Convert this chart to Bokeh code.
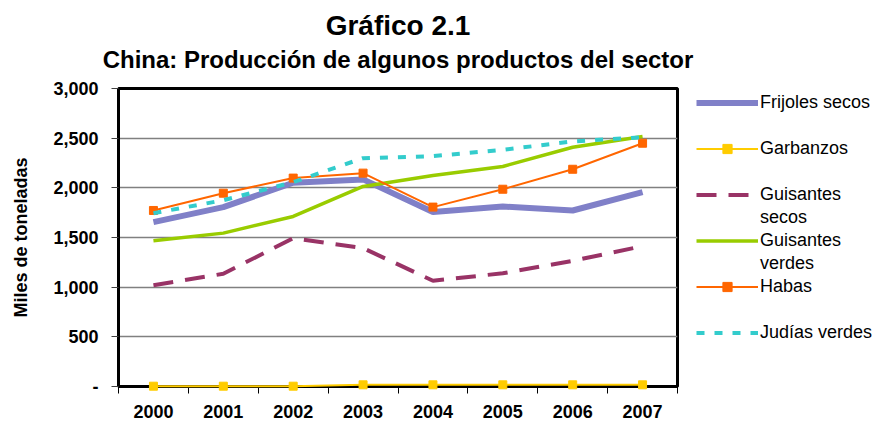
from bokeh.plotting import figure
from bokeh.models import (Range1d, FixedTicker, NumeralTickFormatter, Title,
                          Legend, LegendItem)
from bokeh.embed import file_html
from bokeh.resources import INLINE

# ---- data ----
years = ["2000", "2001", "2002", "2003", "2004", "2005", "2006", "2007"]
frijoles_secos = [1655, 1806, 2051, 2085, 1756, 1812, 1772, 1956]
garbanzos = [3, 3, 3, 17, 17, 17, 17, 17]
guisantes_secos = [1020, 1135, 1493, 1393, 1065, 1140, 1265, 1413]
guisantes_verdes = [1467, 1544, 1712, 2014, 2124, 2215, 2409, 2517]
habas = [1772, 1946, 2098, 2148, 1806, 1986, 2187, 2449]
judias_verdes = [1745, 1875, 2057, 2299, 2319, 2383, 2467, 2510]
y_ticks = [0, 500, 1000, 1500, 2000, 2500, 3000]

FONT = "Liberation Sans"
x = list(range(len(years)))

p = figure(frame_width=559, frame_height=298, output_backend="svg", toolbar_location=None,
           x_range=Range1d(-0.5, len(years) - 0.5), y_range=Range1d(0, 3000),
           min_border_left=118, min_border_right=0, min_border_top=88,
           min_border_bottom=36, title=None)
p.background_fill_color = "white"
p.border_fill_color = "white"
p.outline_line_color = "black"
p.outline_line_width = 3

# titles
p.add_layout(Title(text="China: Producción de algunos productos del sector", align="center",
                   text_font=FONT, text_font_size="24px", text_font_style="bold",
                   text_color="black", standoff=31), "above")
p.add_layout(Title(text="Gráfico 2.1", align="center",
                   text_font=FONT, text_font_size="28px", text_font_style="bold",
                   text_color="black", standoff=-24), "above")

# axes
p.xaxis.ticker = FixedTicker(ticks=x, minor_ticks=[i - 0.5 for i in range(len(years) + 1)])
p.xaxis.major_label_overrides = {i: yr for i, yr in enumerate(years)}
p.xaxis.major_tick_out = 0
p.xaxis.major_tick_in = 0
p.xaxis.minor_tick_out = 7
p.xaxis.minor_tick_in = 0
p.xaxis.minor_tick_line_color = "black"
p.xaxis.major_label_standoff = 11
p.xaxis.major_label_text_font = FONT
p.xaxis.major_label_text_font_size = "18px"
p.xaxis.major_label_text_font_style = "bold"
p.xaxis.major_label_text_color = "black"
p.xaxis.axis_line_width = 3
p.xaxis.axis_line_color = "black"

p.yaxis.ticker = FixedTicker(ticks=y_ticks, minor_ticks=[])
p.yaxis.formatter = NumeralTickFormatter(format="0,0")
p.yaxis.major_label_overrides = {0: "-"}
p.yaxis.major_tick_out = 7
p.yaxis.major_tick_in = 0
p.yaxis.major_tick_line_color = "#404040"
p.yaxis.minor_tick_line_color = None
p.yaxis.major_label_standoff = 13
p.yaxis.major_label_text_font = FONT
p.yaxis.major_label_text_font_size = "18px"
p.yaxis.major_label_text_font_style = "bold"
p.yaxis.major_label_text_color = "black"
p.yaxis.axis_line_width = 3
p.yaxis.axis_line_color = "black"
p.yaxis.axis_label = "Miles de toneladas"
p.yaxis.axis_label_text_font = FONT
p.yaxis.axis_label_text_font_size = "18px"
p.yaxis.axis_label_text_font_style = "bold"
p.yaxis.axis_label_text_color = "black"
p.yaxis.axis_label_standoff = 19

p.xgrid.visible = False
p.ygrid.grid_line_color = "#808080"
p.ygrid.grid_line_width = 1.5

# series
r_fri = p.line(x, frijoles_secos, line_color="#8080C8", line_width=6)
r_gar = p.line(x, garbanzos, line_color="#FFCC00", line_width=2, level="annotation")
r_gar_m = p.scatter(x, garbanzos, marker="square", size=8, fill_color="#FFCC00",
                    line_color="#FFCC00", level="annotation")
r_gse = p.line(x, guisantes_secos, line_color="#993366", line_width=4, line_dash="20 12")
r_gve = p.line(x, guisantes_verdes, line_color="#99CC00", line_width=3.5)
r_hab = p.line(x, habas, line_color="#FF6600", line_width=2)
r_hab_m = p.scatter(x, habas, marker="square", size=8, fill_color="#FF6600", line_color="#FF6600")
r_jud = p.line(x, judias_verdes, line_color="#33CCCC", line_width=4, line_dash="8 10")

# invisible renderer used for spacer rows / second lines of wrapped legend labels
r_blank = p.line([], [], line_alpha=0)

legend = Legend(items=[
    LegendItem(label="Frijoles secos", renderers=[r_fri]),
    LegendItem(label=" ", renderers=[r_blank]),
    LegendItem(label="Garbanzos", renderers=[r_gar, r_gar_m]),
    LegendItem(label=" ", renderers=[r_blank]),
    LegendItem(label="Guisantes", renderers=[r_gse]),
    LegendItem(label="secos", renderers=[r_blank]),
    LegendItem(label="Guisantes", renderers=[r_gve]),
    LegendItem(label="verdes", renderers=[r_blank]),
    LegendItem(label="Habas", renderers=[r_hab, r_hab_m]),
    LegendItem(label=" ", renderers=[r_blank]),
    LegendItem(label="Judías verdes", renderers=[r_jud]),
    LegendItem(label=" ", renderers=[r_blank]),
], location="bottom_left")
legend.glyph_width = 62
legend.glyph_height = 23
legend.label_height = 23
legend.label_standoff = 2
legend.spacing = 0
legend.padding = 0
legend.margin = 19
legend.border_line_color = None
legend.background_fill_alpha = 0
legend.label_text_font = FONT
legend.label_text_font_size = "18px"
legend.label_text_color = "black"
p.add_layout(legend, "right")

open("out.html", "w").write(file_html(p, INLINE))
